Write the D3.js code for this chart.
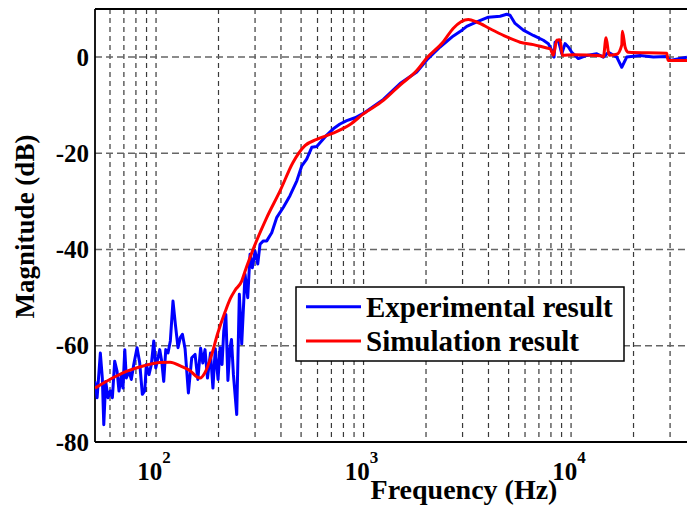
<!DOCTYPE html>
<html><head><meta charset="utf-8">
<script src="https://cdn.jsdelivr.net/npm/d3@7"></script>
<style>
html,body{margin:0;padding:0;background:#fff;overflow:hidden}
text{font-family:"Liberation Serif","Times New Roman",serif;font-weight:bold;fill:#000}
</style></head>
<body><svg id="c" width="687" height="506"></svg>
<script>
// Data (frequency in Hz, magnitude in dB)
const freqExp = [50.7,52,53.9,55.1,56,57.2,58.7,60.2,61.6,63.2,64.9,66.3,68.1,69.3,70.7,71.9,74.1,76,78.1,81,83.4,85.9,88.2,89.8,92.5,94.9,97.5,99.7,102.2,104.2,106.5,108.9,111.4,114.2,117.2,120.7,123.9,127.6,130.9,134,138,143.2,148.6,154.2,159,164,168,172.2,177,183,188,193,199,203.5,208,212,217,222,227,231,236,244.8,252,258.8,268.5,276.6,283.8,291.2,300,309.1,317.1,328.9,341.6,361,382,411,442,477,504,532,563,595,629,665,715,770,830,910,998,1246,1500,1805,2017,2337,2709,2918,3143,3512,3994,4549,4898,5082,5372,5890,6581,7354,7773,8072,8281,8373,8686,9020,9357,9705,10078,10845,11905,13300,14313,15130,16606,17549,18546,21500,24930,28920,30000,33530,36200];
const magExp  = [-67.4,-70.8,-61.5,-66.7,-76.4,-67.4,-70.8,-69.4,-70.8,-63.2,-65.3,-69.4,-66,-68.8,-60.8,-66.7,-65.3,-67,-63.9,-60.4,-63.5,-70.1,-69.4,-63.9,-66,-63.9,-59,-64.6,-62.5,-60.8,-63.2,-67.4,-60.8,-61.5,-59,-50.7,-55.5,-60.4,-58.3,-57.6,-60.6,-69.8,-62.5,-61.8,-67,-60.5,-63.6,-60.8,-66.7,-61.5,-68.8,-60.6,-67,-60.4,-63.9,-56.9,-53.5,-67.2,-60.5,-58.7,-66,-74.3,-49.3,-59.6,-45.1,-50,-41,-43.8,-40.3,-43,-38.9,-38.2,-38.2,-36.5,-33.3,-31.2,-28.8,-25.7,-22.6,-21.2,-18.75,-18.6,-17.4,-16.2,-14.9,-13.9,-13.2,-12.6,-11.7,-8.8,-5.5,-3.1,-0.6,2.1,4.4,5.3,6.4,7.3,8.3,8.5,8.9,8.7,7.0,5.6,4.5,3.5,2.8,1.4,0,3.1,3.5,0.7,2.8,2.1,1.0,-0.3,0.35,0.7,0,1.0,0,-2.1,0,0.35,0,0.15,-0.7,-0.3,0];
const freqSim = [50.8,61,72,85,104,117,131,146,158,163,172,185,198,215,228,240,259,268,284,294,342,396,457,522,595,713,861,998,1246,1500,1805,2017,2424,2709,3200,3512,4071,4898,5679,6581,7637,7930,8216,8533,8851,9080,10259,13796,14313,14749,15250,16606,17549,17666,18240,18878,28920,29340,36200];
const magSim  = [-68.8,-66.8,-65.3,-64.3,-63.5,-63.4,-64.2,-65.2,-66.5,-66.7,-65.6,-62,-57.5,-53,-50.2,-48.5,-46.5,-44.6,-41.6,-39.9,-33.3,-27.8,-21.9,-18.4,-17.1,-15.8,-14,-11.8,-9,-5.8,-2.8,-0.2,3.2,6.0,7.8,7.3,5.9,4.2,3.1,2.6,1.9,1.75,0.4,3.5,3.6,0.4,0.5,0.3,0.1,4.0,0.4,0.6,2.5,5.4,2.0,1.0,0.8,-0.7,-0.7];
const yTicks = [-80,-60,-40,-20,0];
const xDecades = [100,1000,10000];
const xDecadeLabels = ["2","3","4"];
const xGrid = [60,70,80,90,100,200,300,400,500,600,700,800,900,1000,2000,3000,4000,5000,6000,7000,8000,9000,10000,20000,30000];
const seriesNames = ["Experimental result","Simulation result"];
const seriesColors = ["#0000ff","#ff0000"];

const svg = d3.select("#c");
const L=95, R=687, T=9, B=442;
const x = d3.scaleLog().domain([50.8,36200]).range([L,R]);
const y = d3.scaleLinear().domain([-80,10]).range([B,T]);

// grid
svg.append("g").selectAll("line").data(xGrid).join("line")
  .attr("x1",d=>x(d)).attr("x2",d=>x(d)).attr("y1",T).attr("y2",B)
  .attr("stroke","#3a3a3a").attr("stroke-width",1.2).attr("stroke-dasharray","5,4");
svg.append("g").selectAll("line").data(yTicks.filter(d=>d>-80)).join("line")
  .attr("x1",L).attr("x2",R).attr("y1",d=>y(d)).attr("y2",d=>y(d))
  .attr("stroke","#666").attr("stroke-width",1.5).attr("stroke-dasharray","7,4");

// axes frame
svg.append("line").attr("x1",L).attr("x2",R).attr("y1",T).attr("y2",T).attr("stroke","#000").attr("stroke-width",1.8);
svg.append("line").attr("x1",L).attr("x2",R).attr("y1",B).attr("y2",B).attr("stroke","#000").attr("stroke-width",1.8);
svg.append("line").attr("x1",L).attr("x2",L).attr("y1",T).attr("y2",B).attr("stroke","#000").attr("stroke-width",1.8);

// curves
const line = d3.line().x(d=>x(d[0])).y(d=>y(d[1]));
svg.append("clipPath").attr("id","pc").append("rect").attr("x",L).attr("y",T).attr("width",R-L).attr("height",B-T);
const gc = svg.append("g").attr("clip-path","url(#pc)");
gc.append("path").datum(freqExp.map((f,i)=>[f,magExp[i]])).attr("d",line)
  .attr("fill","none").attr("stroke",seriesColors[0]).attr("stroke-width",3).attr("stroke-linejoin","round");
gc.append("path").datum(freqSim.map((f,i)=>[f,magSim[i]])).attr("d",d3.line().curve(d3.curveMonotoneX).x(d=>x(d[0])).y(d=>y(d[1])))
  .attr("fill","none").attr("stroke",seriesColors[1]).attr("stroke-width",3).attr("stroke-linejoin","round");

// y tick labels
svg.append("g").selectAll("text").data(yTicks).join("text")
  .attr("x",89).attr("y",d=>y(d)+8.5).attr("text-anchor","end").attr("font-size",25)
  .text(d=>d);
// x tick labels
const xl = svg.append("g").selectAll("text").data(xDecades).join("text")
  .attr("x",d=>x(d)-2).attr("y",480).attr("text-anchor","middle").attr("font-size",25);
xl.append("tspan").text("10");
xl.append("tspan").attr("font-size",17).attr("dy",-17).text((d,i)=>xDecadeLabels[i]);

// axis labels
svg.append("text").attr("x",464).attr("y",499).attr("text-anchor","middle").attr("font-size",28).text("Frequency (Hz)");
svg.append("text").attr("transform","translate(34,226.5) rotate(-90)").attr("text-anchor","middle").attr("font-size",27).text("Magnitude (dB)");

// legend
const lg = svg.append("g");
lg.append("rect").attr("x",296).attr("y",287).attr("width",328).attr("height",74).attr("fill","#fff").attr("stroke","#000").attr("stroke-width",1.5);
const ly = [306.7,341];
seriesNames.forEach((n,i)=>{
  lg.append("line").attr("x1",306).attr("x2",361).attr("y1",ly[i]).attr("y2",ly[i]).attr("stroke",seriesColors[i]).attr("stroke-width",3);
  lg.append("text").attr("x",366).attr("y",ly[i]+10).attr("font-size",29).text(n);
});
</script></body></html>
